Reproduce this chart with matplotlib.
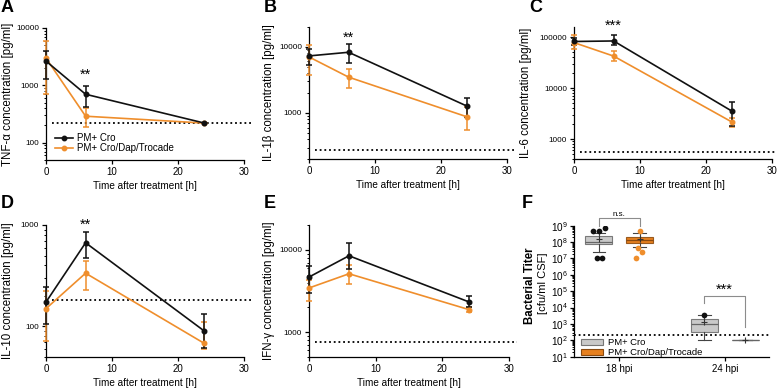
import numpy as np
import matplotlib
matplotlib.use('Agg')
import matplotlib.pyplot as plt
from matplotlib.ticker import LogLocator, NullFormatter, FixedLocator, FixedFormatter
from matplotlib.patches import Patch
from matplotlib.lines import Line2D

plt.rcParams['font.family'] = ['Liberation Sans', 'DejaVu Sans']

# ---------------- data ----------------
time_h = [0, 6, 24]

# TNF-alpha
tnf_cro = [2650, 700, 220]
tnf_cro_lo = [1300, 420, 220]
tnf_cro_hi = [4050, 980, 220]
tnf_tro = [2980, 290, 220]
tnf_tro_lo = [700, 186, 220]
tnf_tro_hi = [6000, 400, 220]
tnf_lod = 220

# IL-1beta
il1_cro = [7250, 8230, 1260]
il1_cro_lo = [5300, 5620, 870]
il1_cro_hi = [9120, 10960, 1660]
il1_tro = [7000, 3470, 870]
il1_tro_lo = [3760, 2340, 550]
il1_tro_hi = [10600, 4620, 1230]
il1_lod = 272

# IL-6
il6_cro = [82000, 84000, 3480]
il6_cro_lo = [70800, 70000, 1800]
il6_cro_hi = [97000, 108000, 5400]
il6_tro = [78000, 42400, 2130]
il6_tro_lo = [59000, 34000, 1760]
il6_tro_hi = [108000, 53000, 2600]
il6_lod = 556

# IL-10
il10_cro = [174, 668, 90]
il10_cro_lo = [106, 475, 62]
il10_cro_hi = [246, 859, 133]
il10_tro = [150, 335, 68]
il10_tro_lo = [72, 227, 60]
il10_tro_hi = [224, 444, 110]
il10_lod = 184

# IFN-gamma
ifn_cro = [4670, 8460, 2330]
ifn_cro_lo = [2990, 5890, 2000]
ifn_cro_hi = [6400, 12040, 2720]
ifn_tro = [3440, 5120, 1880]
ifn_tro_lo = [2420, 3840, 1760]
ifn_tro_hi = [4340, 6510, 2020]
ifn_lod = 757

# Bacterial titer (box stats)
groups = ['18 hpi', '24 hpi']
cro_18 = dict(med=1.0e8, q1=7.2e7, q3=2.2e8, whislo=2.4e7, whishi=3.7e8, mean=1.6e8)
tro_18 = dict(med=1.3e8, q1=9.1e7, q3=2.1e8, whislo=5.2e7, whishi=3.4e8, mean=1.5e8)
cro_24 = dict(med=1000, q1=345, q3=1950, whislo=100, whishi=3700, mean=1300)
tro_24 = dict(med=100, q1=100, q3=100, whislo=100, whishi=100, mean=100)
cro_18_out = [4.8e8, 4.8e8, 6.9e8, 1.1e7, 1.1e7]
cro_18_jit = [-0.054, 0.003, 0.057, -0.022, 0.031]
tro_18_out = [4.8e8, 4.2e7, 2.4e7, 1.1e7]
tro_18_jit = [0.0, -0.015, 0.02, -0.035]
cro_24_out = [3700]
cro_24_jit = [0.0]
titer_lod = 220

ORANGE = '#EF8E2C'
BLACK = '#111111'
BOX_GRAY = '#C9C9C9'
BOX_ORANGE = '#E6801F'

W, H = 777, 390
fig = plt.figure(figsize=(W / 100, H / 100), dpi=100)


def rect(l, r, t, b):
    return [l / W, 1 - b / H, (r - l) / W, (b - t) / H]


def style_ax(ax):
    for s in ['top', 'right']:
        ax.spines[s].set_visible(False)
    for s in ['left', 'bottom']:
        ax.spines[s].set_linewidth(0.9)
    ax.tick_params(which='major', length=3, width=0.9, pad=2)
    ax.tick_params(axis='x', labelsize=7)
    ax.tick_params(axis='y', labelsize=5.9)
    ax.tick_params(which='minor', length=1.8, width=0.7)


def line_panel(r, letter, letter_y, ylabel, ylim, yticks, cro, cro_lo, cro_hi,
               tro, tro_lo, tro_hi, lod, stars, star_y, ylab_x):
    ax = fig.add_axes(r)
    ax.set_yscale('log')
    for vals, lo, hi, col in [(tro, tro_lo, tro_hi, ORANGE),
                              (cro, cro_lo, cro_hi, BLACK)]:
        v = np.array(vals, float)
        err = [v - np.array(lo, float), np.array(hi, float) - v]
        ax.errorbar(time_h, v, yerr=err, color=col, marker='o', ms=3.3,
                    lw=1.2, elinewidth=1.1, capsize=2.2, capthick=1.1,
                    clip_on=False, zorder=3)
    ax.axhline(lod, xmin=0.03, xmax=1.04, color='black', lw=1.3,
               ls=(0, (1, 1.6)), clip_on=False, zorder=2)
    ax.set_xlim(0, 30)
    ax.set_ylim(*ylim)
    ax.set_xticks([0, 10, 20, 30])
    ax.yaxis.set_major_locator(FixedLocator(yticks))
    ax.yaxis.set_major_formatter(FixedFormatter([str(t) for t in yticks]))
    ax.yaxis.set_minor_locator(LogLocator(base=10, subs=np.arange(2, 10), numticks=100))
    ax.yaxis.set_minor_formatter(NullFormatter())
    style_ax(ax)
    ax.set_xlabel('Time after treatment [h]', fontsize=7.2, labelpad=3)
    ax.set_ylabel(ylabel, fontsize=8.3)
    ax.yaxis.set_label_coords(ylab_x, 0.5)
    if stars:
        ax.text(6, star_y, stars, ha='center', va='center', fontsize=10.5,
                clip_on=False)
    x0 = r[0] * W
    fig.text((x0 - 45) / W, 1 - letter_y / H, letter,
             fontsize=13, fontweight='bold', ha='left', va='center')
    return ax


axA = line_panel(rect(46, 244, 28, 160), 'A', 8, 'TNF-α concentration [pg/ml]',
                 (50, 10000), [100, 1000, 10000], tnf_cro, tnf_cro_lo, tnf_cro_hi,
                 tnf_tro, tnf_tro_lo, tnf_tro_hi, tnf_lod, '**', 1500, -0.16)
axB = line_panel(rect(309, 507, 26.7, 159.3), 'B', 8, 'IL-1β concentration [pg/ml]',
                 (200, 20000), [1000, 10000], il1_cro, il1_cro_lo, il1_cro_hi,
                 il1_tro, il1_tro_lo, il1_tro_hi, il1_lod, '**', 13500, -0.17)
axC = line_panel(rect(574, 772, 26.7, 159.3), 'C', 8, 'IL-6 concentration [pg/ml]',
                 (400, 160000), [1000, 10000, 100000], il6_cro, il6_cro_lo, il6_cro_hi,
                 il6_tro, il6_tro_lo, il6_tro_hi, il6_lod, '***', 165000, -0.21)
axD = line_panel(rect(46, 244, 225, 357), 'D', 204, 'IL-10 concentration [pg/ml]',
                 (50, 1000), [100, 1000], il10_cro, il10_cro_lo, il10_cro_hi,
                 il10_tro, il10_tro_lo, il10_tro_hi, il10_lod, '**', 1000, -0.16)
axE = line_panel(rect(309, 509, 225, 357), 'E', 204, 'IFN-γ concentration [pg/ml]',
                 (500, 20000), [1000, 10000], ifn_cro, ifn_cro_lo, ifn_cro_hi,
                 ifn_tro, ifn_tro_lo, ifn_tro_hi, ifn_lod, None, None, -0.168)

axA.legend(handles=[Line2D([], [], color=BLACK, marker='o', ms=3.2, lw=1.2),
                    Line2D([], [], color=ORANGE, marker='o', ms=3.2, lw=1.2)],
           labels=['PM+ Cro', 'PM+ Cro/Dap/Trocade'], loc='lower left',
           bbox_to_anchor=(0.01, 0.0), frameon=False, fontsize=7,
           handlelength=1.9, handletextpad=0.4, labelspacing=0.02, borderpad=0.2)

# ---------------- panel F ----------------
axF = fig.add_axes(rect(574, 769, 225.7, 356.7))
axF.set_yscale('log')
off = 0.194
pos = [0 - off, 0 + off, 1 - off, 1 + off]
stats = []
for s in [cro_18, tro_18, cro_24, tro_24]:
    d = dict(s)
    d['fliers'] = []
    stats.append(d)
bp = axF.bxp(stats, positions=pos, widths=0.256, patch_artist=True,
             showmeans=True, capwidths=0.12,
             meanprops=dict(marker='+', markeredgecolor='#333333', markersize=5,
                            markeredgewidth=0.8),
             medianprops=dict(color='#666666', lw=0.9),
             whiskerprops=dict(color='#444444', lw=0.8),
             capprops=dict(color='#444444', lw=0.8),
             boxprops=dict(lw=0.8))
for b, fc, ec in zip(bp['boxes'], [BOX_GRAY, BOX_ORANGE, BOX_GRAY, BOX_ORANGE],
                     ['#7A7A7A', '#9A5A1E', '#7A7A7A', '#444444']):
    b.set_facecolor(fc)
    b.set_edgecolor(ec)
bp['medians'][1].set_color('#8A4A10')

for vals, jit, p, col in [(cro_18_out, cro_18_jit, pos[0], BLACK),
                          (tro_18_out, tro_18_jit, pos[1], ORANGE),
                          (cro_24_out, cro_24_jit, pos[2], BLACK)]:
    axF.scatter(np.array(jit) + p, vals, s=17, color=col, zorder=4, lw=0)

axF.axhline(titer_lod, color='black', lw=1.3, ls=(0, (1, 1.6)), zorder=1)

# significance brackets
bc = '#8C8C8C'
axF.plot([pos[0], pos[0], pos[1], pos[1]], [9e8, 2.8e9, 2.8e9, 9e8], color=bc,
         lw=0.8, clip_on=False)
axF.text(0, 5.0e9, 'n.s.', ha='center', va='center', fontsize=5.8, clip_on=False)
axF.plot([pos[2], pos[2], pos[3], pos[3]], [1.8e4, 5e4, 5e4, 680], color=bc,
         lw=0.8, clip_on=False)
axF.text(1, 1.2e5, '***', ha='center', va='center', fontsize=10.5)

axF.set_ylim(10, 1e9)
axF.set_xlim(-0.43, 1.42)
axF.set_xticks([0, 1])
axF.set_xticklabels(groups)
axF.yaxis.set_major_locator(FixedLocator([10.0 ** k for k in range(1, 10)]))
axF.yaxis.set_minor_locator(LogLocator(base=10, subs=np.arange(2, 10), numticks=100))
axF.yaxis.set_minor_formatter(NullFormatter())
style_ax(axF)
axF.tick_params(axis='y', labelsize=7.2, pad=1.5)

axF.legend(handles=[Patch(facecolor=BOX_GRAY, edgecolor='#777777', lw=0.8),
                    Patch(facecolor=BOX_ORANGE, edgecolor='#8A4A10', lw=0.8)],
           labels=['PM+ Cro', 'PM+ Cro/Dap/Trocade'], loc='lower left',
           bbox_to_anchor=(0.0, -0.055), frameon=False, fontsize=6.8,
           handlelength=2.4, handleheight=0.6, handletextpad=0.5,
           labelspacing=0.1, borderpad=0.2)

fig.text(530 / W, 1 - 286 / H, 'Bacterial Titer', rotation=90, fontsize=8.3,
         fontweight='bold', ha='center', va='center')
fig.text(542.5 / W, 1 - 283 / H, '[cfu/ml CSF]', rotation=90, fontsize=8.0,
         ha='center', va='center')
fig.text(522 / W, 1 - 204 / H, 'F', fontsize=13, fontweight='bold', ha='left',
         va='center')

fig.savefig('out.png', dpi=100)
